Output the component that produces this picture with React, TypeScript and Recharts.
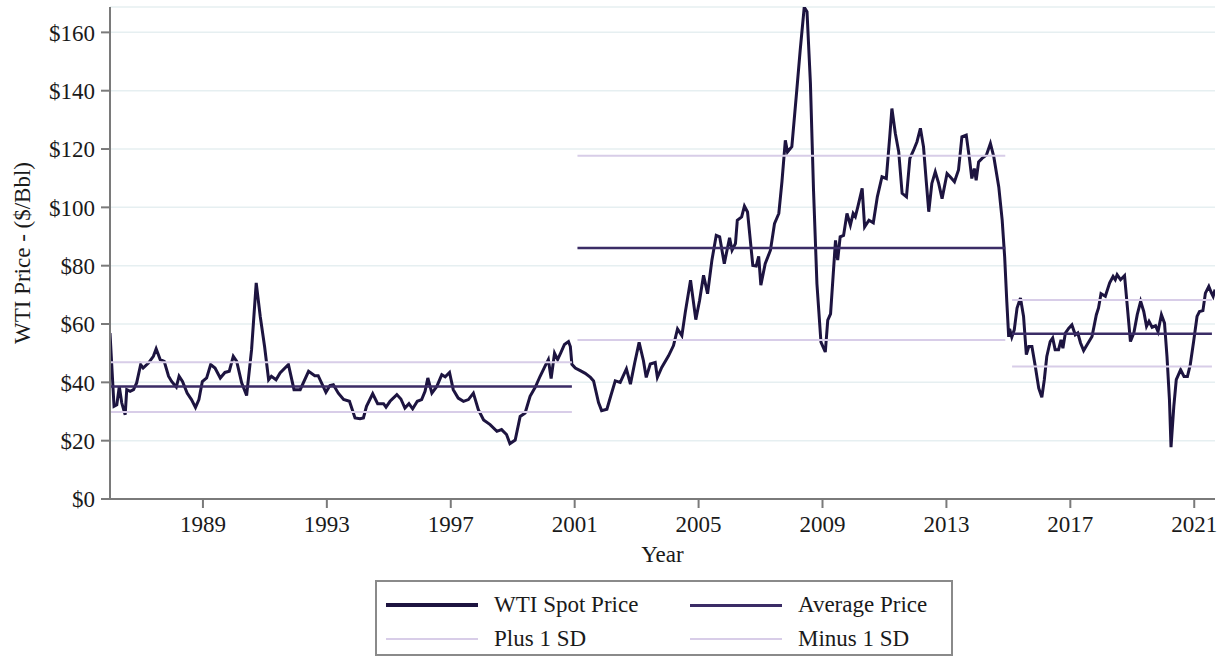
import React from "react";
import { LineChart, Line, XAxis, YAxis, CartesianGrid } from "recharts";

const SPOT_YEARS = [
  1986.0, 1986.13, 1986.22, 1986.3, 1986.38, 1986.49, 1986.54, 1986.65, 1986.76, 1986.86,
  1986.99, 1987.07, 1987.24, 1987.4, 1987.49, 1987.62, 1987.75, 1987.89, 1987.99, 1988.14,
  1988.23, 1988.34, 1988.49, 1988.63, 1988.76, 1988.87, 1988.98, 1989.12, 1989.25, 1989.39,
  1989.56, 1989.71, 1989.85, 1989.98, 1990.09, 1990.25, 1990.41, 1990.57, 1990.72, 1990.85,
  1990.99, 1991.12, 1991.21, 1991.36, 1991.49, 1991.76, 1991.94, 1992.14, 1992.41, 1992.61,
  1992.72, 1992.97, 1993.1, 1993.21, 1993.37, 1993.54, 1993.73, 1993.91, 1994.07, 1994.18,
  1994.28, 1994.48, 1994.64, 1994.83, 1994.91, 1995.04, 1995.26, 1995.39, 1995.52, 1995.65,
  1995.77, 1995.92, 1996.06, 1996.17, 1996.26, 1996.39, 1996.55, 1996.71, 1996.82, 1996.96,
  1997.08, 1997.24, 1997.41, 1997.57, 1997.73, 1997.89, 1998.06, 1998.27, 1998.49, 1998.64,
  1998.8, 1998.91, 1999.08, 1999.24, 1999.4, 1999.56, 1999.73, 1999.88, 2000.04, 2000.15,
  2000.24, 2000.35, 2000.45, 2000.55, 2000.67, 2000.8, 2000.86, 2000.91, 2001.02, 2001.18,
  2001.34, 2001.51, 2001.61, 2001.77, 2001.87, 2002.04, 2002.15, 2002.31, 2002.47, 2002.67,
  2002.8, 2002.94, 2003.08, 2003.22, 2003.31, 2003.44, 2003.6, 2003.67, 2003.81, 2004.03,
  2004.19, 2004.32, 2004.46, 2004.57, 2004.74, 2004.91, 2005.03, 2005.16, 2005.29, 2005.43,
  2005.57, 2005.68, 2005.83, 2006.0, 2006.08, 2006.19, 2006.25, 2006.39, 2006.48, 2006.58,
  2006.75, 2006.86, 2006.94, 2007.01, 2007.15, 2007.32, 2007.45, 2007.59, 2007.69, 2007.8,
  2007.87, 2008.01, 2008.17, 2008.28, 2008.41, 2008.5, 2008.61, 2008.71, 2008.82, 2008.95,
  2009.09, 2009.17, 2009.26, 2009.42, 2009.49, 2009.57, 2009.68, 2009.79, 2009.9, 2009.99,
  2010.06, 2010.14, 2010.28, 2010.36, 2010.5, 2010.64, 2010.77, 2010.92, 2011.06, 2011.17,
  2011.24, 2011.35, 2011.46, 2011.57, 2011.71, 2011.82, 2011.94, 2012.05, 2012.16, 2012.26,
  2012.35, 2012.43, 2012.53, 2012.64, 2012.75, 2012.86, 2013.02, 2013.12, 2013.26, 2013.39,
  2013.5, 2013.64, 2013.75, 2013.82, 2013.9, 2013.96, 2014.04, 2014.15, 2014.29, 2014.42,
  2014.53, 2014.69, 2014.8, 2014.88, 2014.95, 2015.01, 2015.04, 2015.11, 2015.19, 2015.28,
  2015.39, 2015.49, 2015.58, 2015.66, 2015.76, 2015.87, 2015.98, 2016.08, 2016.16, 2016.24,
  2016.35, 2016.43, 2016.51, 2016.62, 2016.7, 2016.76, 2016.84, 2016.95, 2017.05, 2017.16,
  2017.24, 2017.33, 2017.43, 2017.54, 2017.7, 2017.84, 2017.91, 2017.99, 2018.13, 2018.27,
  2018.38, 2018.45, 2018.51, 2018.62, 2018.75, 2018.83, 2018.94, 2019.05, 2019.16, 2019.27,
  2019.37, 2019.46, 2019.54, 2019.64, 2019.75, 2019.83, 2019.94, 2020.04, 2020.12, 2020.2,
  2020.25, 2020.34, 2020.42, 2020.56, 2020.67, 2020.78, 2020.87, 2020.98, 2021.09, 2021.17,
  2021.28, 2021.36, 2021.47, 2021.55, 2021.61, 2021.67,
];

const SPOT_PRICES = [
  56.9, 31.8, 32.3, 38.6, 32.9, 28.9, 37.5, 36.9, 37.5, 39.8,
  46.1, 44.9, 46.6, 48.9, 51.5, 47.8, 47.2, 42.1, 40.3, 38.4,
  42.1, 40.3, 36.3, 34.1, 31.4, 34.1, 40.3, 41.5, 46.1, 44.9,
  41.5, 43.4, 43.8, 48.9, 47.2, 39.8, 35.5, 51.2, 74.1, 62.6,
  52.3, 40.9, 42.1, 40.9, 43.2, 46.1, 37.5, 37.5, 43.8, 42.3,
  42.3, 36.6, 38.9, 39.2, 36.3, 34.1, 33.5, 27.8, 27.5, 27.8,
  31.8, 36.1, 32.7, 32.7, 31.5, 33.5, 35.8, 34.3, 31.2, 32.7,
  30.9, 33.5, 34.1, 36.9, 41.5, 36.3, 38.6, 42.6, 41.9, 43.4,
  37.5, 34.6, 33.5, 34.1, 36.3, 30.6, 27.1, 25.5, 23.2, 23.8,
  22.1, 19.0, 20.2, 28.3, 29.5, 35.2, 38.4, 42.0, 45.5, 47.8,
  41.3, 50.0, 47.8, 50.1, 53.0, 54.0, 52.3, 46.2, 44.9, 44.0,
  43.1, 41.7, 40.5, 33.1, 30.3, 30.8, 34.8, 40.5, 40.0, 44.6,
  39.4, 46.8, 53.7, 47.4, 41.7, 46.3, 46.8, 41.7, 45.1, 49.1,
  52.6, 58.3, 56.0, 64.0, 75.0, 61.5, 68.0, 76.7, 70.4, 81.9,
  90.4, 89.9, 80.7, 89.6, 85.3, 87.6, 95.6, 96.7, 100.4, 98.4,
  80.1, 79.9, 83.2, 73.3, 80.7, 85.3, 94.4, 97.9, 108.7, 123.0,
  119.0, 120.8, 140.2, 153.9, 168.6, 167.1, 142.5, 105.9, 73.8, 53.8,
  50.4, 61.3, 63.5, 88.7, 81.9, 89.9, 90.4, 97.9, 93.9, 97.9,
  96.8, 100.2, 106.5, 93.3, 95.6, 94.7, 103.6, 110.5, 109.9, 124.2,
  133.9, 125.4, 119.1, 104.8, 103.6, 116.8, 119.6, 122.5, 127.1, 120.8,
  108.8, 98.5, 108.2, 112.2, 108.2, 103.0, 111.6, 110.5, 108.8, 112.8,
  124.2, 124.8, 116.2, 109.9, 113.3, 109.3, 115.6, 116.8, 117.9, 121.9,
  117.3, 107.0, 95.6, 83.0, 67.6, 55.6, 58.3, 55.5, 58.0, 65.5,
  68.9, 62.6, 49.5, 52.3, 52.3, 45.4, 38.0, 34.9, 40.9, 48.9,
  54.0, 55.2, 51.2, 51.2, 54.6, 51.7, 56.9, 58.6, 59.7, 56.3,
  56.9, 53.5, 50.9, 52.9, 55.7, 63.2, 65.5, 70.4, 69.5, 74.1,
  76.3, 75.2, 76.9, 75.2, 76.6, 67.2, 54.0, 56.9, 63.2, 67.8,
  64.3, 59.2, 60.9, 58.9, 59.4, 57.4, 63.2, 60.3, 48.9, 34.0,
  17.8, 31.7, 40.9, 44.3, 42.0, 42.0, 46.0, 54.0, 62.6, 64.3,
  64.6, 70.6, 72.9, 70.8, 69.5, 71.8,
];

// Regime segments: start / end year, mean and +/- 1 SD levels
const SEG_START = [1986.0, 2001.09, 2015.12];
const SEG_END = [2000.91, 2014.9, 2021.57];
const SEG_AVG = [38.6, 86.1, 56.7];
const SEG_PLUS_SD = [46.9, 117.7, 68.2];
const SEG_MINUS_SD = [29.8, 54.5, 45.4];

const X_TICKS = [1989, 1993, 1997, 2001, 2005, 2009, 2013, 2017, 2021];
const Y_TICKS = [0, 20, 40, 60, 80, 100, 120, 140, 160];

const FONT = "'Liberation Serif', 'Times New Roman', serif";
const SPOT_COLOR = "#1d1440";
const AVG_COLOR = "#3b2c66";
const SD_COLOR = "#d8cde8";
const AXIS_COLOR = "#7a7a7a";

const spotData = SPOT_YEARS.map((year, i) => ({ year, value: SPOT_PRICES[i] }));

// one series per level, with a null between segments so the line breaks
const segmentData = (levels: number[]) => {
  const out: { year: number; value: number | null }[] = [];
  SEG_START.forEach((s, i) => {
    out.push({ year: s, value: levels[i] });
    out.push({ year: SEG_END[i], value: levels[i] });
    if (i < SEG_START.length - 1) {
      out.push({ year: (SEG_END[i] + SEG_START[i + 1]) / 2, value: null });
    }
  });
  return out;
};

const YTitle = (props: any) => {
  const vb = props.viewBox || { x: 0, y: 0, height: 0 };
  const cx = vb.x + 22;
  const cy = vb.y + vb.height / 2;
  return (
    <text
      x={cx}
      y={cy}
      transform={`rotate(-90 ${cx} ${cy})`}
      textAnchor="middle"
      dominantBaseline="central"
      fontFamily={FONT}
      fontSize={23}
      fill="#1a1a1a"
    >
      WTI Price - ($/Bbl)
    </text>
  );
};

const XTitle = (props: any) => {
  const vb = props.viewBox || { x: 0, y: 0, width: 0 };
  return (
    <text
      x={vb.x + vb.width / 2}
      y={vb.y + 55}
      textAnchor="middle"
      dominantBaseline="central"
      fontFamily={FONT}
      fontSize={23}
      fill="#1a1a1a"
    >
      Year
    </text>
  );
};

const legendItems = [
  { label: "WTI Spot Price", color: SPOT_COLOR, width: 3.5 },
  { label: "Average Price", color: AVG_COLOR, width: 3 },
  { label: "Plus 1 SD", color: SD_COLOR, width: 2 },
  { label: "Minus 1 SD", color: SD_COLOR, width: 2 },
];

const LegendBox = () => (
  <div
    style={{
      position: "absolute",
      left: 375,
      top: 580,
      width: 578,
      height: 76,
      border: "2px solid #8a8a8a",
      boxSizing: "border-box",
      display: "grid",
      gridTemplateColumns: "304px 1fr",
      gridTemplateRows: "34px 34px",
      paddingTop: 6,
      fontFamily: FONT,
      fontSize: 23,
      color: "#1a1a1a",
    }}
  >
    {legendItems.map((it) => (
      <div key={it.label} style={{ display: "flex", alignItems: "center", paddingLeft: 9 }}>
        <span
          style={{
            display: "inline-block",
            width: 92,
            height: it.width,
            background: it.color,
            marginRight: 16,
          }}
        />
        <span>{it.label}</span>
      </div>
    ))}
  </div>
);

export default function App() {
  return (
    <div style={{ position: "absolute", left: 0, top: 0, width: 1225, height: 660, background: "#fff" }}>
      <LineChart width={1225} height={660} margin={{ top: 7, right: 10, left: 0, bottom: 91 }}>
        <CartesianGrid vertical={false} stroke="#e6eff1" strokeWidth={1.5} />
        <XAxis
          type="number"
          dataKey="year"
          domain={[1986, 2021.67]}
          ticks={X_TICKS}
          allowDataOverflow
          height={70}
          tickSize={9}
          tickMargin={8}
          stroke={AXIS_COLOR}
          strokeWidth={2}
          tick={{ fontFamily: FONT, fontSize: 23, fill: "#1a1a1a" }}
          label={{ content: XTitle }}
        />
        <YAxis
          type="number"
          domain={[0, 168.7]}
          ticks={Y_TICKS}
          allowDataOverflow
          width={110}
          tickSize={9}
          tickMargin={6}
          stroke={AXIS_COLOR}
          strokeWidth={2}
          tickFormatter={(v: number) => `$${v}`}
          tick={{ fontFamily: FONT, fontSize: 23, fill: "#1a1a1a" }}
          label={{ content: YTitle }}
        />
        <Line
          data={spotData}
          dataKey="value"
          type="linear"
          stroke={SPOT_COLOR}
          strokeWidth={3}
          dot={false}
          isAnimationActive={false}
        />
        <Line
          data={segmentData(SEG_AVG)}
          dataKey="value"
          type="linear"
          stroke={AVG_COLOR}
          strokeWidth={2.5}
          dot={false}
          connectNulls={false}
          isAnimationActive={false}
        />
        <Line
          data={segmentData(SEG_PLUS_SD)}
          dataKey="value"
          type="linear"
          stroke={SD_COLOR}
          strokeWidth={2}
          dot={false}
          connectNulls={false}
          isAnimationActive={false}
        />
        <Line
          data={segmentData(SEG_MINUS_SD)}
          dataKey="value"
          type="linear"
          stroke={SD_COLOR}
          strokeWidth={2}
          dot={false}
          connectNulls={false}
          isAnimationActive={false}
        />
      </LineChart>
      <LegendBox />
    </div>
  );
}
